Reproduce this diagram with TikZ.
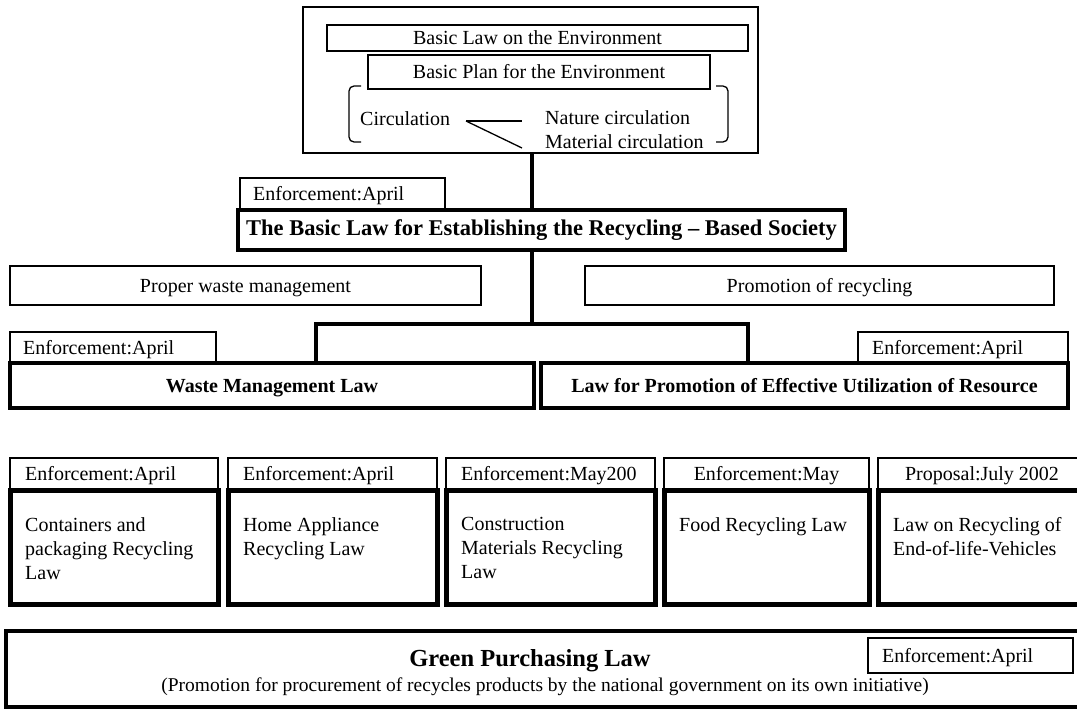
\documentclass[tikz,border=0pt]{standalone}
\usepackage{fontspec}
\setmainfont{Liberation Serif}
% rectangular node given by its two corners (x1,y1) and (x2,y2)
\newcommand\boxnode[6]{%
  \node[#6, anchor=north west, minimum width={(#4)-(#2)}, minimum height={(#5)-(#3)}] (#1) at (#2,#3) {};}
\begin{document}
\begin{tikzpicture}[x=1pt,y=-1pt,
  thinbox/.style={draw, line width=1.3pt, inner sep=0pt, outer sep=0pt},
  framebox/.style={draw, line width=1.8pt, inner sep=0pt, outer sep=0pt},
  heavybox/.style={draw, line width=4pt, inner sep=0pt, outer sep=0pt},
  heavierbox/.style={draw, line width=5pt, inner sep=0pt, outer sep=0pt},
  conn/.style={line width=4pt},
  thinline/.style={line width=1.3pt},
  lbl/.style={inner sep=0pt, font=\fontsize{20}{24}\selectfont, text height=14pt, text depth=1pt},
  boldlbl/.style={lbl, font=\fontsize{20}{24}\selectfont\bfseries},
  lawtext/.style={inner sep=0pt, font=\fontsize{20}{24}\selectfont, align=left, anchor=north west},
]
\useasboundingbox (0,0) rectangle (1077,709);

% ---- environment framework ----
\boxnode{env}{303}{7}{758}{153}{framebox}
\boxnode{basiclaw}{327}{25}{748}{51}{thinbox}
\node[lbl] (basiclawtxt) at (basiclaw.center) {Basic Law on the Environment};
\boxnode{basicplan}{368}{55}{710}{89}{thinbox}
\node[lbl] (basicplantxt) at (basicplan.center) {Basic Plan for the Environment};
\draw[thinline, rounded corners=5pt] (361,86) -- (349,86) -- (349,142) -- (361,142);
\draw[thinline, rounded corners=5pt] (716,86) -- (728,86) -- (728,142) -- (716,142);
\node[lbl, anchor=west] (circ) at (360,119) {Circulation};
\node[lbl, anchor=west] (nature) at (545,118) {Nature circulation};
\node[lbl, anchor=west] (material) at (545,142) {Material circulation};
\coordinate (fork) at (466,121);
\coordinate (natureend) at (522,121);
\coordinate (materialend) at (522,148);
\draw[thinline] (fork) -- (natureend);
\draw[thinline] (fork) -- (materialend);

% ---- basic law for the recycling-based society ----
\coordinate (spine) at (532,0);
\boxnode{hdrsoc}{240}{178}{445}{210}{thinbox}
\node[lbl, anchor=west] (hdrsoctxt) at ([xshift=13pt]hdrsoc.west) {Enforcement:April};
\boxnode{society}{238}{210}{845}{250}{heavybox}
\node[inner sep=0pt, font=\fontsize{22.5}{26}\selectfont\bfseries] (societytxt) at (society.center) {The Basic Law for Establishing the Recycling – Based Society};
\draw[conn] (spine |- env.south) -- (spine |- society.north);

% ---- two policy directions ----
\boxnode{proper}{10}{266}{481}{305}{thinbox}
\node[lbl] (propertxt) at (proper.center) {Proper waste management};
\boxnode{promorec}{585}{266}{1054}{305}{thinbox}
\node[lbl] (promorectxt) at (promorec.center) {Promotion of recycling};

% ---- general laws ----
\boxnode{hdrwaste}{10}{332}{216}{363}{thinbox}
\node[lbl, anchor=west] (hdrwastetxt) at ([xshift=13pt]hdrwaste.west) {Enforcement:April};
\boxnode{hdrres}{858}{332}{1068}{363}{thinbox}
\node[lbl, anchor=west] (hdrrestxt) at ([xshift=14pt]hdrres.west) {Enforcement:April};
\boxnode{waste}{10}{363}{534}{408}{heavybox}
\node[boldlbl] (wastetxt) at (waste.center) {Waste Management Law};
\boxnode{resource}{541}{363}{1068}{408}{heavybox}
\node[boldlbl] (resourcetxt) at (resource.center) {Law for Promotion of Effective Utilization of Resource};
\coordinate (split) at (532,324);
\coordinate (splitL) at (316,324);
\coordinate (splitR) at (748,324);
\draw[conn] (spine |- society.south) -- (split);
\draw[conn] (splitL |- waste.north) -- (splitL) -- (splitR) -- (splitR |- resource.north);

% ---- individual recycling laws ----
\boxnode{hdrA}{10}{458}{218}{490}{thinbox}
\boxnode{hdrB}{228}{458}{437}{490}{thinbox}
\boxnode{hdrC}{446}{458}{655}{490}{thinbox}
\boxnode{hdrD}{664}{458}{869}{490}{thinbox}
\boxnode{hdrE}{878}{458}{1080}{490}{thinbox}
\node[lbl, anchor=west] (hdrAtxt) at ([xshift=15pt]hdrA.west) {Enforcement:April};
\node[lbl, anchor=west] (hdrBtxt) at ([xshift=15pt]hdrB.west) {Enforcement:April};
\node[lbl, anchor=west] (hdrCtxt) at ([xshift=15pt]hdrC.west) {Enforcement:May200};
\node[lbl] (hdrDtxt) at (hdrD.center) {Enforcement:May};
\node[lbl] (hdrEtxt) at ([xshift=3pt]hdrE.center) {Proposal:July 2002};

\boxnode{lawA}{10}{490}{218}{604}{heavierbox}
\boxnode{lawB}{228}{490}{437}{604}{heavierbox}
\boxnode{lawC}{446}{490}{655}{604}{heavierbox}
\boxnode{lawD}{664}{490}{869}{604}{heavierbox}
\boxnode{lawE}{878}{490}{1080}{604}{heavierbox}
\node[lawtext] (lawAtxt) at (25,517) {Containers and\\packaging Recycling\\Law};
\node[lawtext] (lawBtxt) at (243,517) {Home Appliance\\Recycling Law};
\node[lawtext] (lawCtxt) at (461,517) {Construction\\Materials Recycling\\Law};
\node[lawtext] (lawDtxt) at (679,517) {Food Recycling Law};
\node[lawtext] (lawEtxt) at (893,517) {Law on Recycling of\\End-of-life-Vehicles};

% ---- green purchasing ----
\boxnode{green}{6}{631}{1080}{707}{heavybox}
\node[inner sep=0pt, font=\fontsize{24.5}{28}\selectfont\bfseries] (greentxt) at (530,661) {Green Purchasing Law};
\node[inner sep=0pt, font=\fontsize{19.5}{23}\selectfont] (greensub) at (545,687) {(Promotion for procurement of recycles products by the national government on its own initiative)};
\boxnode{hdrgreen}{868}{638}{1073}{673}{thinbox}
\node[lbl, anchor=west] (hdrgreentxt) at ([xshift=14pt]hdrgreen.west) {Enforcement:April};
\end{tikzpicture}
\end{document}
